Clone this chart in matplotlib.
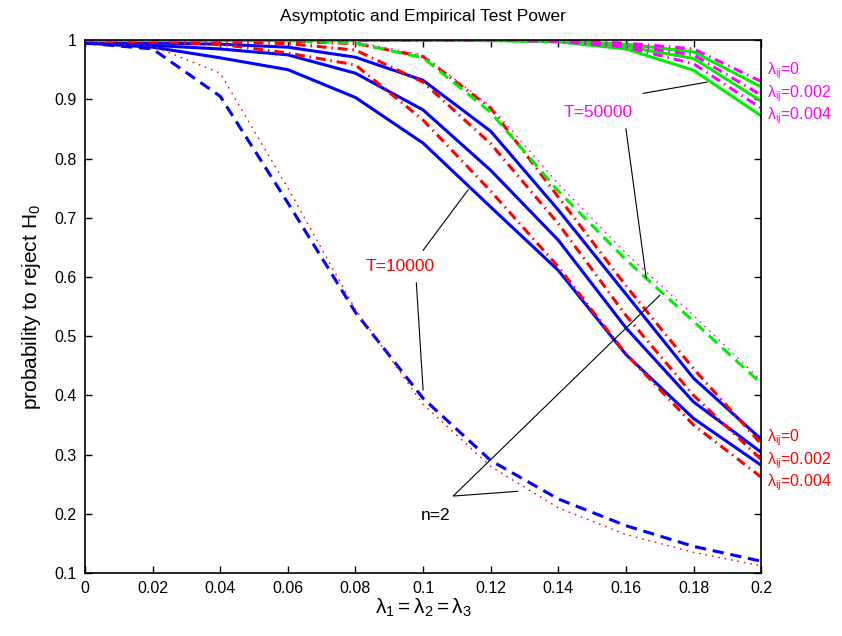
import numpy as np
import matplotlib
matplotlib.use("Agg")
import matplotlib.pyplot as plt

plt.rcParams["font.family"] = ["Liberation Sans", "DejaVu Sans"]
plt.rcParams["mathtext.fontset"] = "custom"
plt.rcParams["mathtext.rm"] = "Liberation Sans"
plt.rcParams["mathtext.it"] = "Liberation Sans:italic"

# lambda grid
lam = [0, 0.02, 0.04, 0.06, 0.08, 0.10, 0.12, 0.14, 0.16, 0.18, 0.20]

# T=10000, n=3 : empirical (blue solid) for lambda_ij = 0, 0.002, 0.004
t10_emp = [
    [0.996, 0.995, 0.993, 0.988, 0.971, 0.932, 0.846, 0.713, 0.571, 0.429, 0.326],
    [0.995, 0.991, 0.985, 0.975, 0.944, 0.882, 0.780, 0.662, 0.514, 0.389, 0.304],
    [0.995, 0.988, 0.970, 0.950, 0.903, 0.826, 0.718, 0.611, 0.469, 0.361, 0.282],
]
# T=10000, n=3 : asymptotic (red dash-dot)
t10_asy = [
    [1.000, 0.999, 0.999, 0.998, 0.994, 0.972, 0.885, 0.735, 0.585, 0.445, 0.318],
    [0.999, 0.998, 0.997, 0.994, 0.983, 0.929, 0.825, 0.690, 0.535, 0.400, 0.292],
    [0.999, 0.997, 0.993, 0.978, 0.958, 0.865, 0.745, 0.617, 0.470, 0.350, 0.262],
]
# T=10000, n=2
t10_n2_emp = [0.995, 0.985, 0.905, 0.725, 0.540, 0.395, 0.290, 0.225, 0.180, 0.145, 0.120]
t10_n2_asy = [0.998, 0.990, 0.944, 0.750, 0.545, 0.385, 0.280, 0.210, 0.165, 0.135, 0.112]

# T=50000, n=3 : empirical (green solid) and asymptotic (magenta dash-dot)
t50_emp = [
    [1.000, 1.000, 1.000, 1.000, 1.000, 1.000, 1.000, 0.999, 0.993, 0.980, 0.921],
    [1.000, 1.000, 1.000, 1.000, 1.000, 1.000, 1.000, 0.998, 0.989, 0.969, 0.897],
    [1.000, 1.000, 1.000, 1.000, 1.000, 1.000, 0.999, 0.997, 0.985, 0.949, 0.872],
]
t50_asy = [
    [1.000, 1.000, 1.000, 1.000, 1.000, 1.000, 1.000, 0.999, 0.995, 0.985, 0.930],
    [1.000, 1.000, 1.000, 1.000, 1.000, 1.000, 1.000, 0.998, 0.991, 0.975, 0.907],
    [1.000, 1.000, 1.000, 1.000, 1.000, 1.000, 1.000, 0.998, 0.988, 0.960, 0.885],
]
# T=50000, n=2
t50_n2_emp = [1.000, 1.000, 1.000, 0.999, 0.995, 0.970, 0.878, 0.745, 0.629, 0.525, 0.420]
t50_n2_asy = [1.000, 1.000, 1.000, 0.999, 0.997, 0.975, 0.888, 0.757, 0.640, 0.535, 0.425]

lam_labels = ["=0", "=0.002", "=0.004"]
t50_label_y = [0.948, 0.910, 0.872]
t10_label_y = [0.328, 0.290, 0.252]

LW = 2.2
DASHDOT = (3.2, 1.6, 0.5, 1.6)

fig = plt.figure(figsize=(8.42, 6.36), dpi=100, facecolor="white")
ax = fig.add_axes([0.101, 0.099, 0.803, 0.838])

for y in t10_emp:
    ax.plot(lam, y, color="blue", lw=LW)
for y in t10_asy:
    ax.plot(lam, y, color="red", lw=LW, dashes=DASHDOT)

ax.plot(lam, t10_n2_emp, color="blue", lw=LW, dashes=(3.7, 2.2))
ax.plot(lam, t10_n2_asy, color="red", lw=1.0, dashes=(1.2, 3.5))

ax.plot(lam, t50_n2_emp, color="#00ee00", lw=LW, dashes=(3.7, 2.2))
ax.plot(lam, t50_n2_asy, color="magenta", lw=1.0, dashes=(1.2, 3.5))

for y in t50_emp:
    ax.plot(lam, y, color="#00ee00", lw=LW)
for y in t50_asy:
    ax.plot(lam, y, color="magenta", lw=LW, dashes=DASHDOT)

# annotation pointers
ann = dict(color="black", lw=0.8)
ax.plot([0.1651, 0.184], [0.910, 0.929], **ann)
ax.plot([0.160, 0.166], [0.850, 0.598], **ann)
ax.plot([0.100, 0.1133], [0.645, 0.747], **ann)
ax.plot([0.098, 0.100], [0.590, 0.409], **ann)
ax.plot([0.128, 0.1089, 0.170], [0.238, 0.230, 0.569], **ann)

ax.text(0.1518, 0.878, "T=50000", color="magenta", fontsize=12.5, ha="center", va="center")
ax.text(0.0932, 0.617, "T=10000", color="red", fontsize=12.5, ha="center", va="center")
ax.text(0.1036, 0.198, "n=2", color="black", fontsize=12.5, ha="center", va="center")

for lab, y in zip(lam_labels, t50_label_y):
    ax.text(0.2017, y, r"$\mathregular{\lambda_{ij}}$" + lab, color="magenta",
            fontsize=11.5, ha="left", va="center", clip_on=False)
for lab, y in zip(lam_labels, t10_label_y):
    ax.text(0.2017, y, r"$\mathregular{\lambda_{ij}}$" + lab, color="red",
            fontsize=11.5, ha="left", va="center", clip_on=False)

ax.set_xlim(0, 0.2)
ax.set_ylim(0.1, 1)
xt = np.round(np.arange(0, 0.201, 0.02), 2)
yt = np.round(np.arange(0.1, 1.01, 0.1), 1)
ax.set_xticks(xt)
ax.set_xticklabels(["0"] + [f"{v:g}" for v in xt[1:]])
ax.set_yticks(yt)
ax.set_yticklabels([f"{v:g}" for v in yt])
ax.tick_params(direction="in", top=True, right=True, length=5, width=1,
               labelsize=11.5, pad=6)
for s in ax.spines.values():
    s.set_linewidth(1.2)

ax.set_title("Asymptotic and Empirical Test Power", fontsize=12.5, pad=14)
ax.set_xlabel(r"$\mathregular{\lambda_1=\lambda_2=\lambda_3}$", fontsize=15, labelpad=0)
ax.set_ylabel(r"probability to reject H$\mathregular{_0}$", fontsize=15, labelpad=8)

fig.savefig("out.png", dpi=100, facecolor="white")
